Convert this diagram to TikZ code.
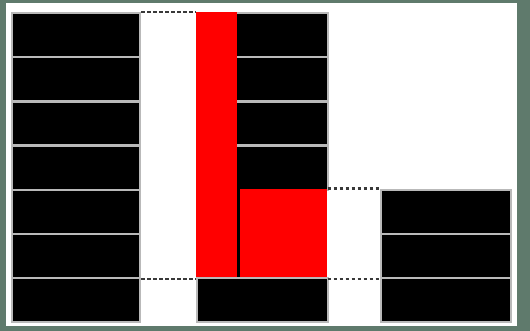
\documentclass[tikz,border=0pt]{standalone}
\usepackage{xcolor}
\usepackage{tikz}
\usetikzlibrary{positioning, calc}
\definecolor{framegreen}{RGB}{95,122,108}
\tikzset{
  cellbox/.style={
    draw=gray!55, fill=black, line width=1.3pt, inner sep=0pt,
    anchor=north west, minimum height=0.883cm
  },
  hotbox/.style={
    fill=red, inner sep=0pt, anchor=north west
  },
  gapline/.style={
    dash pattern=on 2pt off 1.4pt, line width=1.2pt, color=gray!45!black
  },
}
\begin{document}
\begin{tikzpicture}[
  leftcell/.style={cellbox, minimum width=2.56cm},
  midcell/.style={cellbox, minimum width=2.62cm},
  rightcell/.style={cellbox, minimum width=2.60cm},
]
  % Frame
  \useasboundingbox (0,0) rectangle (10.6,6.62);
  \fill[framegreen] (0,0) rectangle (10.6,6.62);
  \fill[white] (0.12,0.10) rectangle (10.34,6.56);

  % Left column
  \node[leftcell] (l1) at (0.22,6.380) {};
  \node[leftcell] (l2) at (0.22,5.497) {};
  \node[leftcell] (l3) at (0.22,4.614) {};
  \node[leftcell] (l4) at (0.22,3.731) {};
  \node[leftcell] (l5) at (0.22,2.849) {};
  \node[leftcell] (l6) at (0.22,1.966) {};
  \node[leftcell] (l7) at (0.22,1.083) {};

  % Middle column
  \node[midcell] (m1) at (3.92,6.380) {};
  \node[midcell] (m2) at (3.92,5.497) {};
  \node[midcell] (m3) at (3.92,4.614) {};
  \node[midcell] (m4) at (3.92,3.731) {};
  \node[midcell] (m7) at (3.92,1.083) {};

  % Red blocks
  \fill[black] (3.92,2.849) rectangle (6.54,1.083);
  \node[hotbox, minimum width=0.82cm, minimum height=5.297cm] (redbar) at (3.92,6.380) {};
  \node[hotbox, minimum width=1.74cm, minimum height=1.766cm] (redbox) at (4.80,2.849) {};

  % Right column
  \node[rightcell] (r5) at (7.60,2.849) {};
  \node[rightcell] (r6) at (7.60,1.966) {};
  \node[rightcell] (r7) at (7.60,1.083) {};

  % Gaps
  \draw[gapline] (l1.north east) -- (redbar.west |- l1.north east);
  \draw[gapline] (l6.south east) -- (redbar.west |- l6.south east);
  \draw[gapline] (redbox.east |- r5.north west) -- (r5.north west);
  \draw[gapline] (redbox.east |- r6.south west) -- (r6.south west);
\end{tikzpicture}
\end{document}
